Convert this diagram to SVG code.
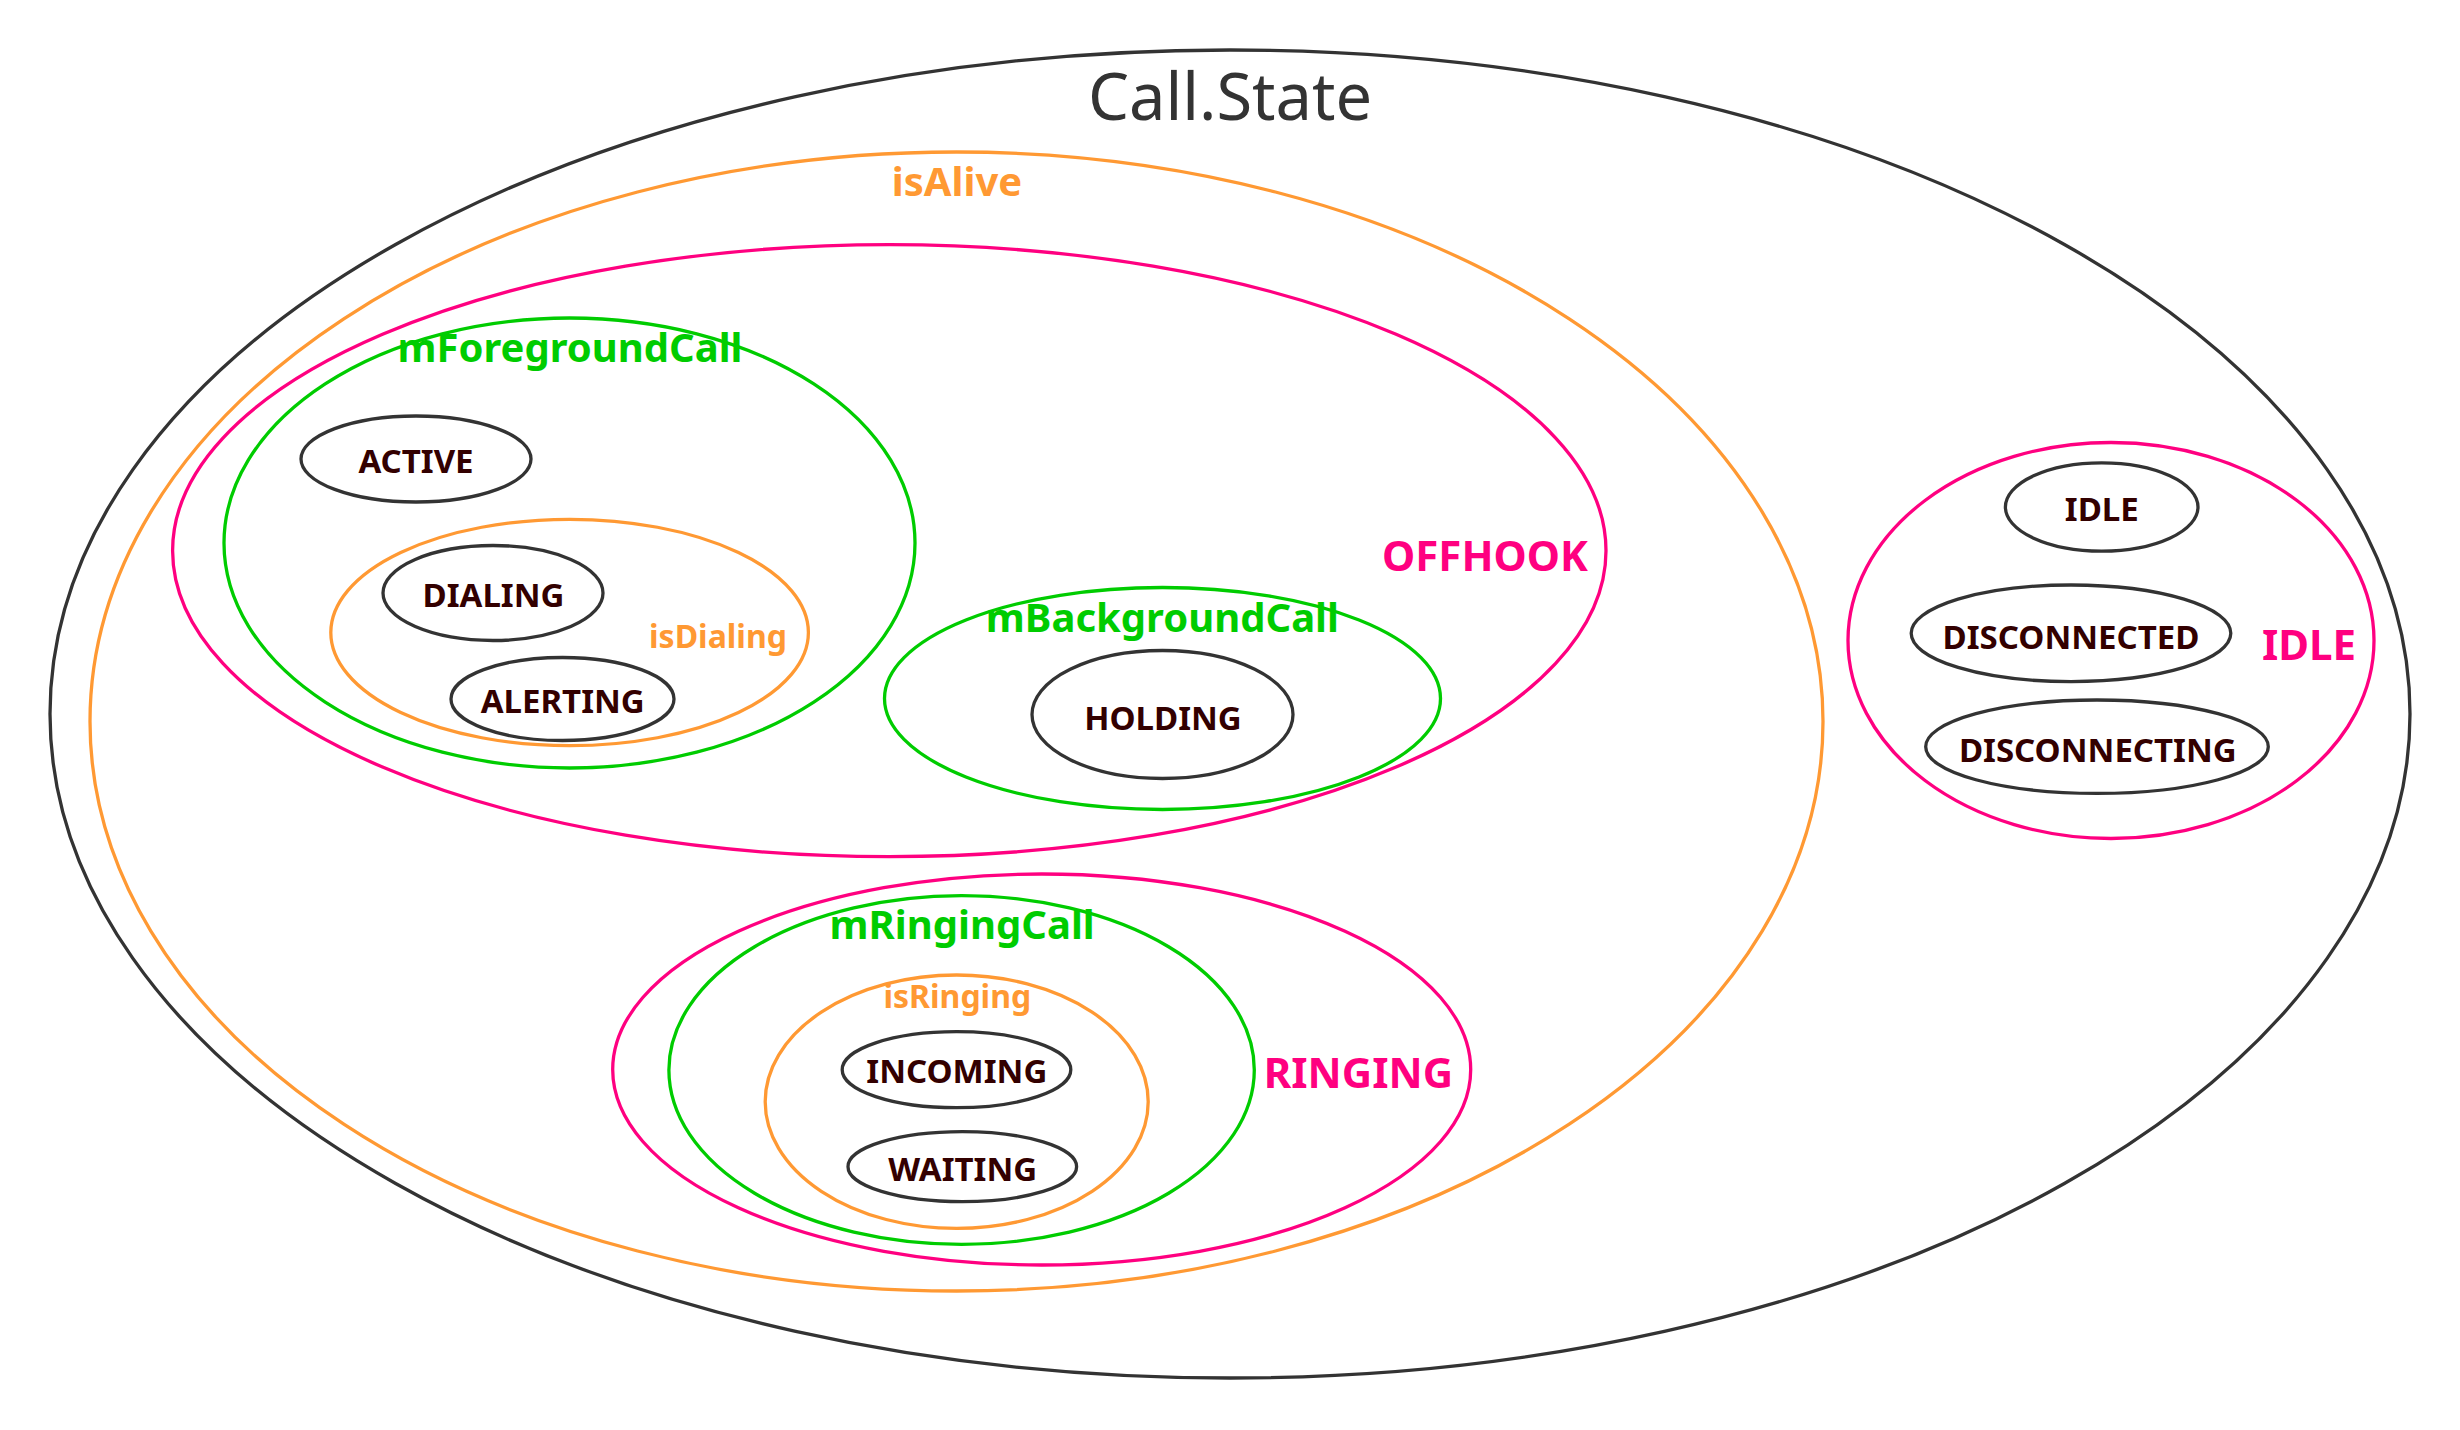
<svg xmlns="http://www.w3.org/2000/svg" width="2460" height="1430" viewBox="0 0 2460 1430">
<style>
  .e { fill: none; stroke-width: 3.3; }
  .dark { stroke: #333333; }
  .pink { stroke: #FF0080; }
  .green { stroke: #00CC00; }
  .orange { stroke: #FF9933; }
  text { font-family: "Noto Sans", "Open Sans", "DejaVu Sans", sans-serif; text-anchor: middle; font-weight: bold; }
  .st { font-size: 33px; fill: #330000; }
  .lp { font-size: 42px; fill: #FF0080; }
  .lg { font-size: 40px; fill: #00CC00; }
  .lo { font-size: 40px; fill: #FF9933; }
  .lo2 { font-size: 32px; fill: #FF9933; }
  .title { font-size: 65px; fill: #333333; font-weight: normal; }
</style>
<rect width="2460" height="1430" fill="#ffffff"/>
<g id="callstate">
  <ellipse class="e dark" cx="1230" cy="714" rx="1180" ry="664"/>
  <text class="title" x="1230" y="120">Call.State</text>
</g>
<g id="isAlive">
  <ellipse class="e orange" cx="956.5" cy="721.5" rx="866.5" ry="569.5"/>
  <text class="lo" x="957" y="196">isAlive</text>
</g>
<g id="offhook">
  <ellipse class="e pink" cx="889.3" cy="550.7" rx="716.7" ry="306"/>
  <text class="lp" x="1485" y="571">OFFHOOK</text>
</g>
<g id="mForegroundCall">
  <ellipse class="e green" cx="569.5" cy="543" rx="345.5" ry="225"/>
  <text class="lg" x="570" y="362">mForegroundCall</text>
</g>
<g id="active">
  <ellipse class="e dark" cx="416" cy="459" rx="115" ry="43"/>
  <text class="st" x="416" y="473">ACTIVE</text>
</g>
<g id="isDialing">
  <ellipse class="e orange" cx="569.6" cy="632.5" rx="238.8" ry="113.2"/>
  <text class="lo2" x="718" y="648">isDialing</text>
</g>
<g id="dialing">
  <ellipse class="e dark" cx="493" cy="593" rx="110" ry="47.5"/>
  <text class="st" x="493.5" y="607">DIALING</text>
</g>
<g id="alerting">
  <ellipse class="e dark" cx="562.5" cy="699" rx="111.5" ry="41.5"/>
  <text class="st" x="562.7" y="713">ALERTING</text>
</g>
<g id="mBackgroundCall">
  <ellipse class="e green" cx="1162.5" cy="698.5" rx="278" ry="111"/>
  <text class="lg" x="1162.4" y="632">mBackgroundCall</text>
</g>
<g id="holding">
  <ellipse class="e dark" cx="1162.5" cy="714.5" rx="130.5" ry="64"/>
  <text class="st" x="1163" y="730">HOLDING</text>
</g>
<g id="idleGroup">
  <ellipse class="e pink" cx="2111" cy="640.5" rx="263" ry="198"/>
  <text class="lp" x="2309" y="660">IDLE</text>
</g>
<g id="idle">
  <ellipse class="e dark" cx="2101.7" cy="507" rx="96.3" ry="44.2"/>
  <text class="st" x="2101.8" y="521">IDLE</text>
</g>
<g id="disconnected">
  <ellipse class="e dark" cx="2071" cy="633.3" rx="159.8" ry="48.3"/>
  <text class="st" x="2071" y="649">DISCONNECTED</text>
</g>
<g id="disconnecting">
  <ellipse class="e dark" cx="2097" cy="746.7" rx="171.3" ry="46.7"/>
  <text class="st" x="2097.8" y="762">DISCONNECTING</text>
</g>
<g id="ringing">
  <ellipse class="e pink" cx="1041.7" cy="1069.5" rx="429" ry="195.5"/>
  <text class="lp" x="1358.4" y="1088">RINGING</text>
</g>
<g id="mRingingCall">
  <ellipse class="e green" cx="961.6" cy="1070" rx="292.7" ry="174.3"/>
  <text class="lg" x="962.2" y="939">mRingingCall</text>
</g>
<g id="isRinging">
  <ellipse class="e orange" cx="956.7" cy="1101.7" rx="191.5" ry="126.7"/>
  <text class="lo2" x="957.3" y="1008">isRinging</text>
</g>
<g id="incoming">
  <ellipse class="e dark" cx="956.5" cy="1069.7" rx="114.3" ry="38"/>
  <text class="st" x="956.8" y="1083">INCOMING</text>
</g>
<g id="waiting">
  <ellipse class="e dark" cx="962.3" cy="1166.7" rx="114.3" ry="35"/>
  <text class="st" x="962.7" y="1181">WAITING</text>
</g>
<g id="connectors"></g>
</svg>
